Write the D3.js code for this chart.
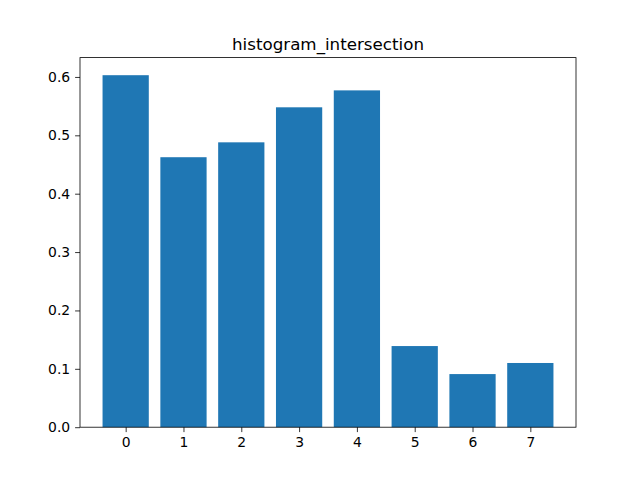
<!DOCTYPE html>
<html>
<head>
<meta charset="utf-8">
<script src="https://cdn.jsdelivr.net/npm/d3@7"></script>
<style>
  body { margin: 0; background: #fff; }
  text { font-family: "DejaVu Sans", sans-serif; }
</style>
</head>
<body>
<div id="chart"></div>
<script>
// data
var categories = [0, 1, 2, 3, 4, 5, 6, 7];
var values = [0.603, 0.4625, 0.488, 0.548, 0.577, 0.139, 0.091, 0.110];
var yTicks = [0.0, 0.1, 0.2, 0.3, 0.4, 0.5, 0.6];
var chartTitle = "histogram_intersection";

// set the dimensions and margins of the graph (matplotlib defaults)
var margin = {top: 57.6, right: 64, bottom: 52.8, left: 80},
    width = 640 - margin.left - margin.right,
    height = 480 - margin.top - margin.bottom;

var svg = d3.select("#chart")
  .append("svg")
    .attr("width", 640)
    .attr("height", 480)
  .append("g")
    .attr("transform", "translate(" + margin.left + "," + margin.top + ")");

// x scale: bars of width 0.8 centred on integers, 5% margins
var barW = 0.8;
var xmin = -barW / 2, xmax = categories.length - 1 + barW / 2;
var xpad = (xmax - xmin) * 0.05;
var x = d3.scaleLinear()
  .domain([xmin - xpad, xmax + xpad])
  .range([0, width]);

var y = d3.scaleLinear()
  .domain([0, d3.max(values) * 1.05])
  .range([height, 0]);

// bars
svg.append("g")
  .selectAll("rect")
  .data(values)
  .enter()
  .append("rect")
    .attr("x", function(d, i) { return x(categories[i] - barW / 2); })
    .attr("width", function(d, i) { return x(categories[i] + barW / 2) - x(categories[i] - barW / 2); })
    .attr("y", function(d) { return y(d); })
    .attr("height", function(d) { return height - y(d); })
    .attr("fill", "#1f77b4");

// axes
var xAxis = svg.append("g")
  .attr("transform", "translate(0," + height + ")")
  .call(d3.axisBottom(x).tickValues(categories).tickFormat(d3.format("d")).tickSizeOuter(0).tickSize(4.9).tickPadding(4.9));
var yAxis = svg.append("g")
  .call(d3.axisLeft(y).tickValues(yTicks).tickFormat(d3.format(".1f")).tickSizeOuter(0).tickSize(4.9).tickPadding(4.9));

[xAxis, yAxis].forEach(function(a) {
  a.select(".domain").remove();
  a.selectAll("line").attr("stroke", "#000").attr("stroke-width", 0.8);
  a.selectAll("text").attr("font-family", "DejaVu Sans").attr("font-size", "13.9px").attr("fill", "#000");
});

// frame
svg.append("rect")
  .attr("x", 0).attr("y", 0)
  .attr("width", width).attr("height", height)
  .attr("fill", "none")
  .attr("stroke", "#000")
  .attr("stroke-width", 0.8);

// title
svg.append("text")
  .attr("x", width / 2)
  .attr("y", -8)
  .attr("text-anchor", "middle")
  .attr("font-size", "16.7px")
  .attr("fill", "#000")
  .text(chartTitle);
</script>
</body>
</html>
